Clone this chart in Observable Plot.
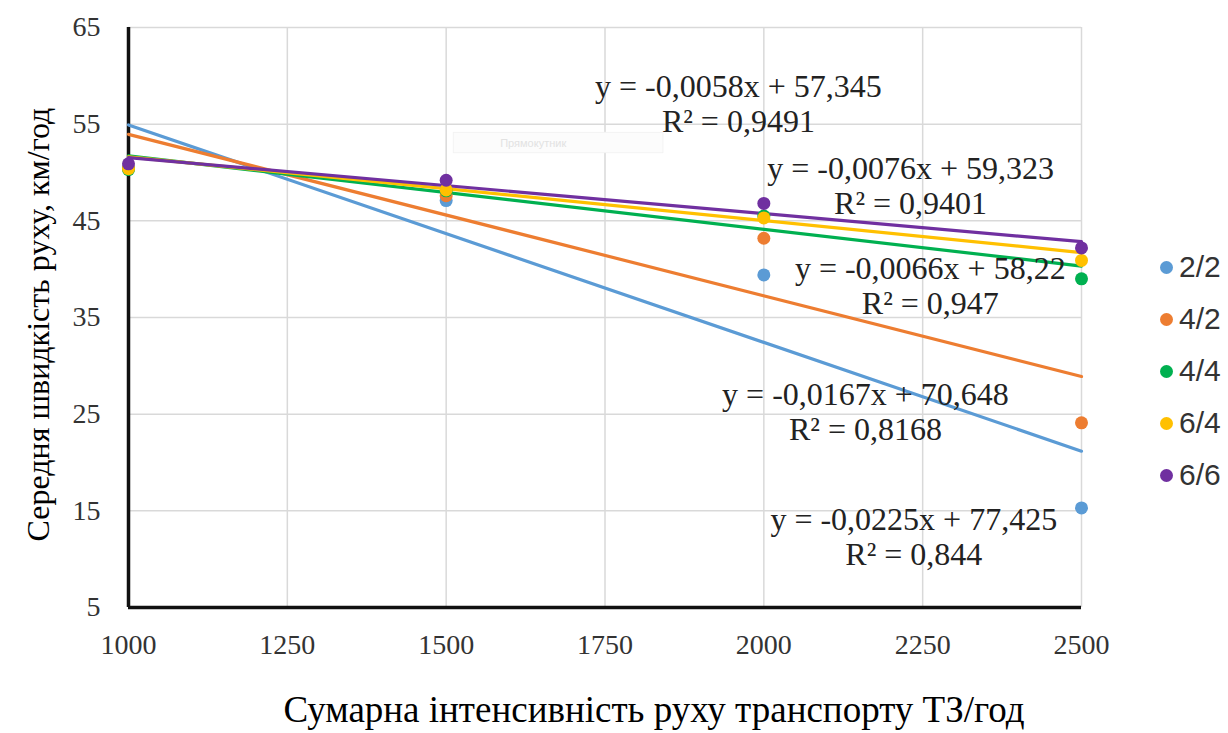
<!DOCTYPE html>
<html>
<head>
<meta charset="utf-8">
<script src="https://cdn.jsdelivr.net/npm/d3@7"></script>
<script src="https://cdn.jsdelivr.net/npm/@observablehq/plot@0.6"></script>
<style>
  html, body { margin: 0; padding: 0; background: #fff; }
  #wrap { position: relative; width: 1228px; height: 733px; overflow: hidden; }
  #legend { position: absolute; left: 0; top: 0; width: 1228px; height: 733px; pointer-events: none;
            font-family: "Liberation Sans", Arial, sans-serif; font-size: 30px; color: #333; }
  .item { position: absolute; display: flex; align-items: center; height: 40px; }
  .sw { width: 13px; height: 13px; border-radius: 50%; margin-right: 6px; }
</style>
</head>
<body>
<div id="wrap"><div id="chart"></div><div id="legend"></div></div>
<script>
// ---- data ----
const intensity = [1000, 1500, 2000, 2500];            // ТЗ/год
const categories = ["2/2", "4/2", "4/4", "6/4", "6/6"];
const colors = ["#5B9BD5", "#ED7D31", "#00B050", "#FFC000", "#7030A0"];
const speed_2_2 = [50.5, 47.1, 39.4, 15.3];
const speed_4_2 = [50.4, 47.6, 43.2, 24.1];
const speed_4_4 = [50.3, 48.1, 45.5, 39.0];
const speed_6_4 = [50.4, 48.2, 45.3, 40.9];
const speed_6_6 = [50.9, 49.2, 46.8, 42.2];
// trend-line equations printed on the chart
const slopes = [-0.0225, -0.0167, -0.0076, -0.0066, -0.0058];
const intercepts = [77.425, 70.648, 59.323, 58.22, 57.345];
const rSquared = ["0,844", "0,8168", "0,9401", "0,947", "0,9491"];
const xTicks = [1000, 1250, 1500, 1750, 2000, 2250, 2500];
const yTicks = [5, 15, 25, 35, 45, 55, 65];
const xTitle = "Сумарна інтенсивність руху транспорту ТЗ/год";
const yTitle = "Середня швидкість руху, км/год";
const shapeName = "Прямокутник";

// ---- annotation placement (data units) ----
const labelAt = [
  {x: 2236, y: 12.35},
  {x: 2160, y: 25.28},
  {x: 2231, y: 48.66},
  {x: 2262, y: 38.31},
  {x: 1960, y: 57.14}
];

const seriesValues = [speed_2_2, speed_4_2, speed_4_4, speed_6_4, speed_6_6];
const points = [];
categories.forEach((c, i) => intensity.forEach((x, j) => points.push({cat: c, x, y: seriesValues[i][j]})));
const xMin = xTicks[0], xMax = xTicks[xTicks.length - 1];
const trend = [];
categories.forEach((c, i) => [xMin, xMax].forEach(x => trend.push({cat: c, x, y: slopes[i] * x + intercepts[i]})));
const fmt = v => String(v).replace(".", ",");
const labels = categories.map((c, i) => ({
  cat: c, x: labelAt[i].x, y: labelAt[i].y,
  text: `y = ${fmt(slopes[i])}x + ${fmt(intercepts[i])}\nR² = ${rSquared[i]}`
}));

const serif = "'Liberation Serif', 'Times New Roman', serif";
const chart = Plot.plot({
  width: 1228, height: 733,
  marginLeft: 128, marginRight: 147, marginTop: 27, marginBottom: 126,
  style: {fontFamily: serif, background: "#fff", overflow: "visible"},
  color: {domain: categories, range: colors},
  x: {domain: [xMin, xMax], label: null},
  y: {domain: [yTicks[0], yTicks[yTicks.length - 1]], label: null},
  marks: [
    Plot.gridX(xTicks, {stroke: "#d9d9d9", strokeOpacity: 1, strokeWidth: 1.5}),
    Plot.gridY(yTicks, {stroke: "#d9d9d9", strokeOpacity: 1, strokeWidth: 1.5}),
    Plot.rect([{x1: 1512, x2: 1842, y1: 52.0, y2: 54.1}], {x1: "x1", x2: "x2", y1: "y1", y2: "y2", fill: "#fcfcfc", stroke: "#f3f3f3"}),
    Plot.text([shapeName], {x: 1637, y: 53.05, fontSize: 11, fill: "#e2e2e2", fontFamily: "'Liberation Sans', sans-serif"}),
    Plot.axisX(xTicks, {tickSize: 0, tickPadding: 27, fontSize: 28, fill: "#333", tickFormat: d => String(d), label: null}),
    Plot.axisY(yTicks, {tickSize: 0, tickPadding: 28, fontSize: 28, fill: "#333", label: null}),
    Plot.ruleX([xMin], {stroke: "#111", strokeWidth: 3.5}),
    Plot.ruleY([yTicks[0]], {stroke: "#111", strokeWidth: 3.5}),
    Plot.line(trend, {x: "x", y: "y", z: "cat", stroke: "cat", strokeWidth: 3.2}),
    Plot.dot(points, {x: "x", y: "y", fill: "cat", r: 6.5}),
    Plot.text(labels, {x: "x", y: "y", text: "text", fontSize: 32, fill: "#222", lineHeight: 1.07}),
    Plot.text([xTitle], {frameAnchor: "bottom", dx: 49, dy: 114, fontSize: 37, fill: "#000"}),
    Plot.text([yTitle], {frameAnchor: "left", textAnchor: "middle", rotate: -90, dx: -90, dy: 7, fontSize: 32, fill: "#000"})
  ]
});
document.getElementById("chart").appendChild(chart);

// legend
const legend = document.getElementById("legend");
const legendTop = 267, legendStep = 52;
categories.forEach((c, i) => {
  const item = document.createElement("div");
  item.className = "item";
  item.style.left = "1160px";
  item.style.top = (legendTop + i * legendStep - 20) + "px";
  const sw = document.createElement("span");
  sw.className = "sw";
  sw.style.background = colors[i];
  const t = document.createElement("span");
  t.textContent = c;
  item.appendChild(sw); item.appendChild(t);
  legend.appendChild(item);
});
</script>
</body>
</html>
